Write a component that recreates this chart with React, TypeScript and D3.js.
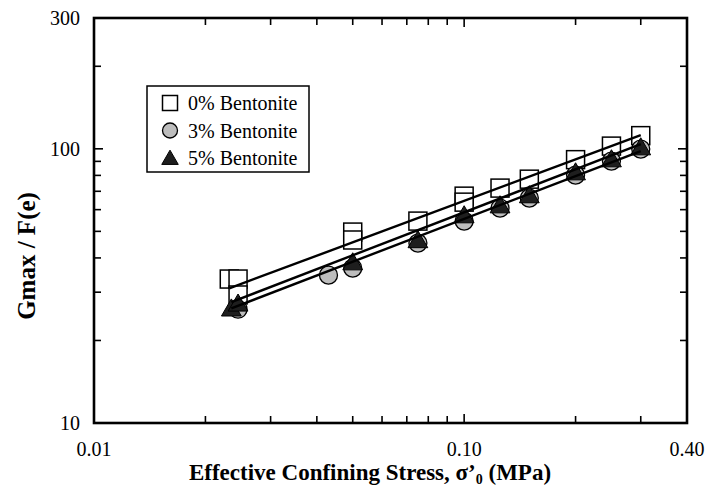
import * as d3 from 'd3';
import React, { useEffect, useRef } from 'react';

// 0% bentonite (open squares)
const bent0X = [0.0232, 0.0245, 0.0245, 0.05, 0.05, 0.075, 0.1, 0.1, 0.125, 0.15, 0.2, 0.25, 0.3];
const bent0Y = [33.5, 33.5, 29.3, 49.7, 46.5, 54.5, 67.2, 63.9, 71.9, 77.5, 91.3, 102.3, 111.7];
// 3% bentonite (grey circles)
const bent3X = [0.0245, 0.043, 0.05, 0.075, 0.1, 0.125, 0.15, 0.2, 0.25, 0.3];
const bent3Y = [26.0, 34.6, 36.7, 45.3, 54.5, 60.8, 66.1, 80.2, 90.2, 99.8];
// 5% bentonite (dark triangles)
const bent5X = [0.0235, 0.0245, 0.05, 0.075, 0.1, 0.125, 0.15, 0.2, 0.25, 0.3];
const bent5Y = [26.2, 27.3, 38.6, 46.5, 57.3, 62.3, 67.8, 82.2, 91.7, 101.4];

// fitted power-law lines: [x start, x end], [y start, y end]
const fit0X = [0.0232, 0.3];
const fit0Y = [31.0, 112.2];
const fit3X = [0.0235, 0.3];
const fit3Y = [26.2, 98.1];
const fit5X = [0.0235, 0.3];
const fit5Y = [27.6, 104.0];

const legendLabels = ['0% Bentonite', '3% Bentonite', '5% Bentonite'];
const xTickLabels = ['0.01', '0.10', '0.40'];
const yTickLabels = ['10', '100', '300'];

const FONT = '"Liberation Serif", "Times New Roman", serif';

function Chart() {
    const ref = useRef(null);

    useEffect(() => {
        const svg = d3.select(ref.current);
        svg.selectAll('*').remove();

        const left = 94, right = 687, top = 18, bottom = 423;
        const x = d3.scaleLog().domain([0.01, 0.4]).range([left, right]);
        const y = d3.scaleLog().domain([10, 300]).range([bottom, top]);

        const series = [
            { xs: bent0X, ys: bent0Y, fx: fit0X, fy: fit0Y, kind: 'square' },
            { xs: bent3X, ys: bent3Y, fx: fit3X, fy: fit3Y, kind: 'circle' },
            { xs: bent5X, ys: bent5Y, fx: fit5X, fy: fit5Y, kind: 'triangle' },
        ];

        const drawMarker = (g, kind, cx, cy, s) => {
            if (kind === 'square') {
                g.append('rect')
                    .attr('x', cx - s / 2).attr('y', cy - s / 2)
                    .attr('width', s).attr('height', s)
                    .attr('fill', '#fff').attr('stroke', '#000').attr('stroke-width', 1.5);
            } else if (kind === 'circle') {
                g.append('circle')
                    .attr('cx', cx).attr('cy', cy).attr('r', s / 2)
                    .attr('fill', '#bdbdbd').attr('stroke', '#000').attr('stroke-width', 1.3);
            } else {
                const h = s * 0.95, w = s * 1.1;
                g.append('path')
                    .attr('d', `M${cx},${cy - h * 0.55}L${cx + w / 2},${cy + h * 0.45}L${cx - w / 2},${cy + h * 0.45}Z`)
                    .attr('fill', '#1e1e1e').attr('stroke', '#000').attr('stroke-width', 1);
            }
        };

        // markers
        const marks = svg.append('g');
        series.forEach(s => {
            s.xs.forEach((v, i) => drawMarker(marks, s.kind, x(v), y(s.ys[i]), 18));
        });

        // fit lines
        const line = d3.line().x(d => x(d[0])).y(d => y(d[1]));
        series.forEach(s => {
            svg.append('path')
                .attr('d', line(s.fx.map((v, i) => [v, s.fy[i]])))
                .attr('fill', 'none')
                .attr('stroke', '#000')
                .attr('stroke-width', 2.4);
        });

        // frame
        svg.append('rect')
            .attr('x', left).attr('y', top)
            .attr('width', right - left).attr('height', bottom - top)
            .attr('fill', 'none').attr('stroke', '#000').attr('stroke-width', 2.6);

        // ticks on all four sides, pointing inward
        const xMinor = [];
        for (const dec of [0.01, 0.1]) for (let k = 2; k <= 9; k++) if (dec * k <= 0.4) xMinor.push(+(dec * k).toFixed(3));
        const xMajor = [0.1];
        const yMinor = [];
        for (const dec of [10, 100]) for (let k = 2; k <= 9; k++) if (dec * k < 300) yMinor.push(dec * k);
        const yMajor = [100];

        const ticks = svg.append('g').attr('stroke', '#000').attr('stroke-width', 1.6);
        const xt = (v, len) => {
            ticks.append('line').attr('x1', x(v)).attr('x2', x(v)).attr('y1', bottom).attr('y2', bottom - len);
            ticks.append('line').attr('x1', x(v)).attr('x2', x(v)).attr('y1', top).attr('y2', top + len);
        };
        const yt = (v, len) => {
            ticks.append('line').attr('y1', y(v)).attr('y2', y(v)).attr('x1', left).attr('x2', left + len);
            ticks.append('line').attr('y1', y(v)).attr('y2', y(v)).attr('x1', right).attr('x2', right - len);
        };
        xMinor.forEach(v => xt(v, 7));
        xMajor.forEach(v => xt(v, 9));
        yMinor.forEach(v => yt(v, 7));
        yMajor.forEach(v => yt(v, 9));

        // tick labels
        const xLab = svg.append('g').attr('font-family', FONT).attr('font-size', 20).attr('text-anchor', 'middle');
        xTickLabels.forEach(t => {
            xLab.append('text').attr('x', x(+t)).attr('y', bottom + 33).text(t);
        });
        const yLab = svg.append('g').attr('font-family', FONT).attr('font-size', 20).attr('text-anchor', 'end');
        yTickLabels.forEach(t => {
            yLab.append('text').attr('x', left - 14).attr('y', y(+t) + 7).text(t);
        });

        // axis titles
        const xTitle = svg.append('text')
            .attr('x', 370).attr('y', 480)
            .attr('text-anchor', 'middle')
            .attr('font-family', FONT).attr('font-size', 23).attr('font-weight', 'bold');
        xTitle.append('tspan').text('Effective Confining Stress, σ’');
        xTitle.append('tspan').attr('font-size', 14).attr('dy', 4).text('0');
        xTitle.append('tspan').attr('dy', -4).text(' (MPa)');

        svg.append('text')
            .attr('transform', `translate(35,${(190 + 322) / 2}) rotate(-90)`)
            .attr('text-anchor', 'middle')
            .attr('font-family', FONT).attr('font-size', 25).attr('font-weight', 'bold')
            .text('Gmax / F(e)');

        // legend
        const lg = svg.append('g');
        lg.append('rect')
            .attr('x', 147).attr('y', 86).attr('width', 162).attr('height', 86)
            .attr('fill', '#fff').attr('stroke', '#000').attr('stroke-width', 1.5);
        legendLabels.forEach((lab, i) => {
            const cy = 103 + i * 27.5;
            drawMarker(lg, series[i].kind, 170, cy, 15);
            lg.append('text')
                .attr('x', 188).attr('y', cy + 7)
                .attr('font-family', FONT).attr('font-size', 20)
                .text(lab);
        });
    }, []);

    return (
        <svg ref={ref} width={713} height={489}
            style={{ position: 'absolute', left: 0, top: 0, background: '#fff' }} />
    );
}

export default function App() {
    return <Chart />;
}
